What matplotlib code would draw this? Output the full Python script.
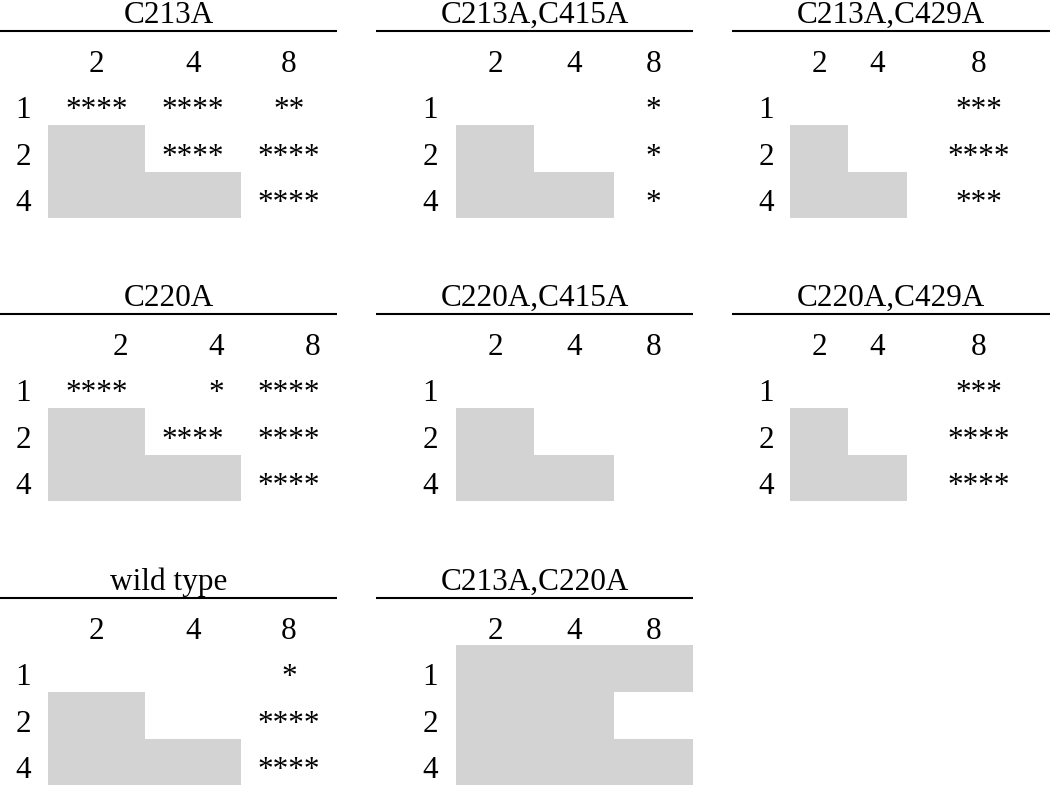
import matplotlib
matplotlib.use("Agg")
import matplotlib.pyplot as plt
import numpy as np
from matplotlib.colors import ListedColormap

# ---------------- data ----------------
titles = ["C213A", "C213A,C415A", "C213A,C429A",
          "C220A", "C220A,C415A", "C220A,C429A",
          "wild type", "C213A,C220A"]
col_labels = ["2", "4", "8"]
row_labels = ["1", "2", "4"]

stars_c213a = [["****", "****", "**"], ["", "****", "****"], ["", "", "****"]]
stars_c213a_c415a = [["", "", "*"], ["", "", "*"], ["", "", "*"]]
stars_c213a_c429a = [["", "", "***"], ["", "", "****"], ["", "", "***"]]
stars_c220a = [["****", "*", "****"], ["", "****", "****"], ["", "", "****"]]
stars_c220a_c415a = [["", "", ""], ["", "", ""], ["", "", ""]]
stars_c220a_c429a = [["", "", "***"], ["", "", "****"], ["", "", "****"]]
stars_wild_type = [["", "", "*"], ["", "", "****"], ["", "", "****"]]
stars_c213a_c220a = [["", "", ""], ["", "", ""], ["", "", ""]]

shade_standard = [[0, 0, 0], [1, 0, 0], [1, 1, 0]]
shade_double = [[1, 1, 1], [1, 1, 0], [1, 1, 1]]

stars_all = [stars_c213a, stars_c213a_c415a, stars_c213a_c429a,
             stars_c220a, stars_c220a_c415a, stars_c220a_c429a,
             stars_wild_type, stars_c213a_c220a]
shades_all = [shade_standard] * 7 + [shade_double]

# ---------------- layout (pixels) ----------------
grid_pos = [(0, 0), (0, 1), (0, 2), (1, 0), (1, 1), (1, 2), (2, 0), (2, 1)]
right_aligned = [False, False, False, True, False, False, False, False]
row_offsets = [0, 283, 567]
line_x = [(0, 337), (376, 693), (732, 1050)]
col_edges = [[48, 145, 241, 337], [456, 534, 614, 693], [790, 848, 907, 1050]]
row_label_x = [23, 430, 766]
row_edges = [78, 125, 172, 218]

FS = 22.5
FONT = "Liberation Serif"
gray = "#d3d3d3"

fig = plt.figure(figsize=(10.5, 7.87), dpi=100)
ax = fig.add_axes([0, 0, 1, 1])
ax.set_xlim(0, 1050)
ax.set_ylim(787, 0)
ax.axis("off")
cmap = ListedColormap([gray])

for p, title in enumerate(titles):
    gr, gc = grid_pos[p]
    y0 = row_offsets[gr]
    xe = col_edges[gc]
    ye = [y0 + r for r in row_edges]
    lx0, lx1 = line_x[gc]

    # title and rule
    ax.text((lx0 + lx1) / 2, y0 + 23, title, ha="center", va="baseline",
            fontsize=FS, family=FONT)
    ax.plot([lx0, lx1], [y0 + 31, y0 + 31], color="black", lw=1.5,
            solid_capstyle="butt")

    # shaded cells
    mask = np.ma.masked_equal(np.array(shades_all[p], dtype=float), 0)
    ax.pcolormesh(xe, ye, mask, cmap=cmap, vmin=0, vmax=1,
                  shading="flat", edgecolors="none", antialiased=False)

    # column labels
    for j, lab in enumerate(col_labels):
        if right_aligned[p]:
            x, ha = xe[j + 1] - 17, "right"
        else:
            x, ha = (xe[j] + xe[j + 1]) / 2, "center"
        ax.text(x, y0 + 72, lab, ha=ha, va="baseline", fontsize=FS, family=FONT)

    # row labels and stars
    for i, lab in enumerate(row_labels):
        yb = ye[i + 1] - 7
        ax.text(row_label_x[gc], yb, lab, ha="center", va="baseline",
                fontsize=FS, family=FONT)
        for j in range(3):
            s = stars_all[p][i][j]
            if not s:
                continue
            if right_aligned[p]:
                x, ha = xe[j + 1] - 17, "right"
            else:
                x, ha = (xe[j] + xe[j + 1]) / 2, "center"
            ax.text(x, yb, s, ha=ha, va="baseline", fontsize=FS, family=FONT)

fig.savefig("out.png", dpi=100)
